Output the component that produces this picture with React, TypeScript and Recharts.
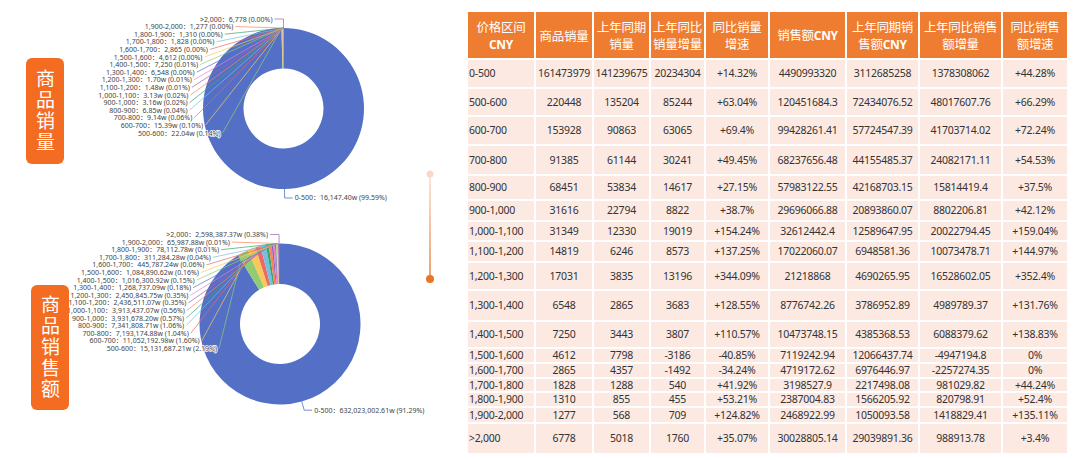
import React from 'react'
import { PieChart, Pie, Cell } from 'recharts'

// 价格区间
const priceRanges = ['0-500', '500-600', '600-700', '700-800', '800-900', '900-1,000', '1,000-1,100', '1,100-1,200', '1,200-1,300', '1,300-1,400', '1,400-1,500', '1,500-1,600', '1,600-1,700', '1,700-1,800', '1,800-1,900', '1,900-2,000', '>2,000']
const salesQty = [161473979, 220448, 153928, 91385, 68451, 31616, 31349, 14819, 17031, 6548, 7250, 4612, 2865, 1828, 1310, 1277, 6778]
const lastYearQty = [141239675, 135204, 90863, 61144, 53834, 22794, 12330, 6246, 3835, 2865, 3443, 7798, 4357, 1288, 855, 568, 5018]
const qtyIncrease = [20234304, 85244, 63065, 30241, 14617, 8822, 19019, 8573, 13196, 3683, 3807, -3186, -1492, 540, 455, 709, 1760]
const qtyGrowth = [14.32, 63.04, 69.4, 49.45, 27.15, 38.7, 154.24, 137.25, 344.09, 128.55, 110.57, -40.85, -34.24, 41.92, 53.21, 124.82, 35.07]
const salesAmt = [4490993320, 120451684.3, 99428261.41, 68237656.48, 57983122.55, 29696066.88, 32612442.4, 17022060.07, 21218868, 8776742.26, 10473748.15, 7119242.94, 4719172.62, 3198527.9, 2387004.83, 2468922.99, 30028805.14]
const lastYearAmt = [3112685258, 72434076.52, 57724547.39, 44155485.37, 42168703.15, 20893860.07, 12589647.95, 6948581.36, 4690265.95, 3786952.89, 4385368.53, 12066437.74, 6976446.97, 2217498.08, 1566205.92, 1050093.58, 29039891.36]
const amtIncrease = [1378308062, 48017607.76, 41703714.02, 24082171.11, 15814419.4, 8802206.81, 20022794.45, 10073478.71, 16528602.05, 4989789.37, 6088379.62, -4947194.8, -2257274.35, 981029.82, 820798.91, 1418829.41, 988913.78]
const amtGrowth = [44.28, 66.29, 72.24, 54.53, 37.5, 42.12, 159.04, 144.97, 352.4, 131.76, 138.83, 0, 0, 44.24, 52.4, 135.11, 3.4]
// 销售额饼图上显示的数值 (w)
const amtPieValues = [632023002.61, 15131687.21, 11052192.98, 7193174.88, 7341808.71, 3931678.2, 3913437.07, 2436511.07, 2450845.75, 1268737.09, 1016300.92, 1084890.62, 445787.24, 311284.28, 78112.78, 65987.88, 2598387.37]

const headers = ['价格区间\nCNY', '商品销量', '上年同期\n销量', '上年同比\n销量增量', '同比销量\n增速', '销售额CNY', '上年同期销\n售额CNY', '上年同比销售\n额增量', '同比销售\n额增速']

const PALETTE = ['#5470c6', '#91cc75', '#fac858', '#ee6666', '#73c0de', '#3ba272', '#fc8452', '#9a60b4', '#ea7ccc']
const ORANGE = '#f36c21'
const COL_W = [68, 58, 57, 55, 64, 77, 73, 83, 66]
const ROW_H = [29, 28, 29, 30, 25, 21, 20, 21, 28, 31, 27, 15, 15, 14, 15, 16, 31]
const RAD = Math.PI / 180
const LABEL_FONT = '"Noto Sans", "Noto Sans CJK SC", sans-serif'

const commas = (s: string) => {
  const [i, d] = s.split('.')
  const r = i.replace(/\B(?=(\d{3})+(?!\d))/g, ',')
  return d !== undefined ? r + '.' + d : r
}
const fmtQty = (v: number) => (v >= 10000 ? commas((v / 10000).toFixed(2)) + 'w' : commas(String(v)))
const fmtW = (v: number) => commas(v.toFixed(2)) + 'w'
const fmtPct = (v: number) => (v > 0 ? `+${v}%` : `${v}%`)

// largest remainder, like echarts
function percents(vals: number[]) {
  const sum = vals.reduce((a, b) => a + b, 0)
  const votes = vals.map((v) => (v / sum) * 10000)
  const seats = votes.map((v) => Math.floor(v))
  const rem = votes.map((v, i) => v - seats[i])
  let cur = seats.reduce((a, b) => a + b, 0)
  while (cur < 10000) {
    let max = -1
    let idx = 0
    rem.forEach((r, i) => {
      if (r > max) {
        max = r
        idx = i
      }
    })
    seats[idx]++
    rem[idx] = 0
    cur++
  }
  return seats.map((s) => (s / 100).toFixed(2) + '%')
}

const qtyPct = percents(salesQty)
const amtPct = percents(amtPieValues)
const qtyLabels = priceRanges.map((r, i) => `${r}：${fmtQty(salesQty[i])} (${qtyPct[i]})`)
const amtLabels = priceRanges.map((r, i) => `${r}：${fmtW(amtPieValues[i])} (${amtPct[i]})`)
const qtyData = priceRanges.map((name, i) => ({ name, value: salesQty[i] }))
const amtData = priceRanges.map((name, i) => ({ name, value: amtPieValues[i] }))

const makeLabel = (texts: string[]) => (props: any) => {
  const { cx, cy, midAngle, outerRadius, index } = props
  const color = PALETTE[index % PALETTE.length]
  const a = -midAngle * RAD
  const ex = cx + outerRadius * Math.cos(a)
  const ey = cy + outerRadius * Math.sin(a)
  const textStyle = {
    fontSize: 7,
    fontFamily: LABEL_FONT,
    fill: '#444',
    stroke: '#fff',
    strokeWidth: 1.5,
    paintOrder: 'stroke' as any,
  }
  if (index === 0) {
    const mx = cx + (outerRadius + 9) * Math.cos(a)
    const my = cy + (outerRadius + 9) * Math.sin(a)
    return (
      <g>
        <polyline points={`${ex},${ey} ${mx},${my} ${mx + 8},${my}`} fill="none" stroke={color} strokeWidth={0.8} />
        <text x={mx + 10} y={my} dominantBaseline="central" style={textStyle}>
          {texts[index]}
        </text>
      </g>
    )
  }
  const n = texts.length
  const ly = cy - 89.5 + (n - 1 - index) * 7.6
  const dy = ly - cy
  const d = dy <= 0 ? Math.sqrt(Math.max(96 * 96 - dy * dy, 0)) : 96 - 0.055 * dy * dy
  let lx = cx - d
  let pts = `${ex},${ey} ${lx + 2},${ly}`
  if (index === n - 1) {
    lx = ex - 11
    pts = `${ex},${ey} ${ex},${ly} ${lx + 2},${ly}`
  }
  return (
    <g>
      <polyline points={pts} fill="none" stroke={color} strokeWidth={0.7} />
      <text x={lx} y={ly} textAnchor="end" dominantBaseline="central" style={textStyle}>
        {texts[index]}
      </text>
    </g>
  )
}

function Donut({ data, labels, cx, cy, height }: { data: any[]; labels: string[]; cx: number; cy: number; height: number }) {
  return (
    <PieChart width={440} height={height} margin={{ top: 0, right: 0, bottom: 0, left: 0 }}>
      <Pie
        data={data}
        dataKey="value"
        nameKey="name"
        cx={cx}
        cy={cy}
        innerRadius={40}
        outerRadius={80.5}
        startAngle={90}
        endAngle={-270}
        stroke="none"
        label={makeLabel(labels)}
        labelLine={false}
        isAnimationActive={false}
      >
        {data.map((d, i) => (
          <Cell key={d.name} fill={PALETTE[i % PALETTE.length]} />
        ))}
      </Pie>
    </PieChart>
  )
}

function SideTag({ text, left, top, height }: { text: string; left: number; top: number; height: number }) {
  return (
    <div
      style={{
        position: 'absolute',
        left,
        top,
        width: 38,
        height,
        background: ORANGE,
        borderRadius: 6,
        display: 'flex',
        alignItems: 'center',
        justifyContent: 'center',
      }}
    >
      <span
        style={{
          writingMode: 'vertical-rl',
          color: '#fff',
          fontFamily: '"Noto Sans CJK SC", sans-serif',
          fontSize: 19,
          letterSpacing: 2,
          lineHeight: '38px',
        }}
      >
        {text}
      </span>
    </div>
  )
}

const headerLine = (line: string) =>
  line.split(/([A-Z]+)/).map((p, i) =>
    /^[A-Z]+$/.test(p) ? (
      <b key={i} style={{ fontFamily: '"Open Sans", sans-serif', fontSize: 12 }}>
        {p}
      </b>
    ) : (
      <span key={i}>{p}</span>
    )
  )

function DataTable() {
  const cell = (w: number, h: number, extra: React.CSSProperties = {}): React.CSSProperties => ({
    width: w,
    height: h,
    boxSizing: 'border-box',
    borderRight: '2px solid #fff',
    borderBottom: '2px solid #fff',
    display: 'flex',
    alignItems: 'center',
    justifyContent: 'center',
    ...extra,
  })
  const rows = priceRanges.map((r, i) => [
    r,
    String(salesQty[i]),
    String(lastYearQty[i]),
    String(qtyIncrease[i]),
    fmtPct(qtyGrowth[i]),
    String(salesAmt[i]),
    String(lastYearAmt[i]),
    String(amtIncrease[i]),
    fmtPct(amtGrowth[i]),
  ])
  return (
    <div style={{ position: 'absolute', left: 468, top: 12 }}>
      <div style={{ display: 'flex' }}>
        {headers.map((h, j) => (
          <div
            key={j}
            style={cell(COL_W[j], 48, {
              background: '#ee7d31',
              color: '#fff',
              flexDirection: 'column',
              fontFamily: '"Noto Sans CJK SC", sans-serif',
              fontSize: 12.5,
              lineHeight: '17px',
              letterSpacing: -0.3,
              textAlign: 'center',
              whiteSpace: 'nowrap',
            })}
          >
            {h.split('\n').map((line, k) => (
              <div key={k}>{headerLine(line)}</div>
            ))}
          </div>
        ))}
      </div>
      {rows.map((row, i) => (
        <div key={i} style={{ display: 'flex' }}>
          {row.map((v, j) => (
            <div
              key={j}
              style={cell(COL_W[j], ROW_H[i], {
                background: '#fce9e2',
                color: '#333',
                fontFamily: '"Noto Sans", "Noto Sans CJK SC", sans-serif',
                fontSize: 10.5,
                letterSpacing: -0.25,
                lineHeight: '13px',
                whiteSpace: 'nowrap',
                justifyContent: j === 0 ? 'flex-start' : 'center',
                paddingLeft: j === 0 ? 1 : 0,
              })}
            >
              {v}
            </div>
          ))}
        </div>
      ))}
    </div>
  )
}

export default function App() {
  return (
    <div style={{ position: 'absolute', left: 0, top: 0, width: 1080, height: 460, background: '#fff', overflow: 'hidden' }}>
      <div style={{ position: 'absolute', left: 0, top: 0 }}>
        <Donut data={qtyData} labels={qtyLabels} cx={283.5} cy={108.5} height={215} />
      </div>
      <div style={{ position: 'absolute', left: 0, top: 215 }}>
        <Donut data={amtData} labels={amtLabels} cx={280} cy={109} height={245} />
      </div>
      <SideTag text="商品销量" left={26} top={58} height={106} />
      <SideTag text="商品销售额" left={31} top={285} height={125} />
      <svg style={{ position: 'absolute', left: 420, top: 165 }} width={20} height={125}>
        <defs>
          <linearGradient id="vline" x1="0" y1="0" x2="0" y2="1">
            <stop offset="0%" stopColor="#f9dccb" />
            <stop offset="100%" stopColor="#e8742a" />
          </linearGradient>
        </defs>
        <rect x={9.3} y={9} width={1.4} height={105} fill="url(#vline)" />
        <circle cx={10} cy={9} r={3.5} fill="#f8d8c6" />
        <circle cx={10} cy={114} r={4} fill="#e8742a" />
      </svg>
      <DataTable />
    </div>
  )
}
